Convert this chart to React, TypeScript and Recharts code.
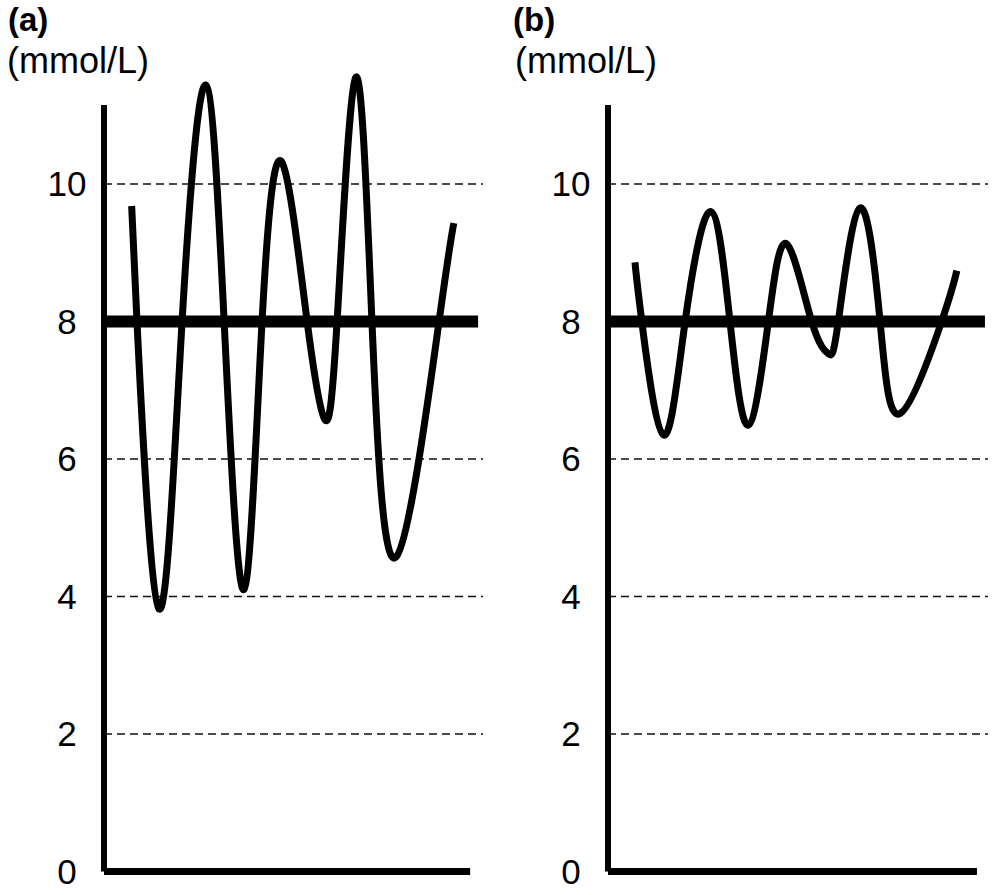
import React from "react";
import { LineChart, Line, XAxis, YAxis, ReferenceLine } from "recharts";

// ---- data ----
const yTicks = [0, 2, 4, 6, 8, 10];
const dashedTicks = [2, 4, 6, 10];
const targetGlucose = 8;
const panelTitles = ["(a)", "(b)"];
const unitLabel = "(mmol/L)";

const timeA = [7.3, 8.7, 14.5, 20.6, 26.8, 31.7, 36.9, 41.7, 46.9, 53.6, 58.3, 61.5, 66.4, 70.7, 77.0, 88.4, 92.3];
const glucoseA = [9.68, 8.0, 3.82, 8.0, 11.44, 8.0, 4.1, 8.0, 10.32, 8.0, 6.57, 8.0, 11.55, 8.0, 4.57, 8.0, 9.43];

const timeB = [7.1, 8.9, 14.6, 20.3, 27.0, 32.1, 36.9, 42.2, 47.0, 53.6, 58.0, 60.6, 66.3, 71.6, 76.8, 87.8, 91.8];
const glucoseB = [8.86, 8.0, 6.35, 8.0, 9.6, 8.0, 6.49, 8.0, 9.13, 8.0, 7.53, 8.0, 9.65, 8.0, 6.66, 8.0, 8.74];

// axis extents (in data units)
const Y_MAX = 12;
const Y_AXIS_TOP = 11.15;
const X_MAX = 100;

const FONT = "'Liberation Sans', Arial, sans-serif";

const Tick = (props: any) => {
  const { x, y, payload } = props;
  return (
    <text x={x} y={y} dy="0.355em" textAnchor="middle" fontFamily={FONT} fontSize={35} fill="#000">
      {payload.value}
    </text>
  );
};

type PanelProps = {
  times: number[];
  values: number[];
  left: number;
  width: number;
  marginLeft: number;
  marginRight: number;
  xAxisEnd: number;
  targetEnd: number;
};

const Panel = ({ times, values, left, width, marginLeft, marginRight, xAxisEnd, targetEnd }: PanelProps) => {
  const data = times.map((t, i) => ({ t, g: values[i] }));
  return (
    <div style={{ position: "absolute", left, top: 0 }}>
      <LineChart
        width={width}
        height={895}
        data={data}
        margin={{ top: 46.5, right: marginRight, bottom: 23.5, left: marginLeft }}
      >
        <XAxis dataKey="t" type="number" domain={[0, X_MAX]} hide />
        <YAxis
          type="number"
          domain={[0, Y_MAX]}
          ticks={yTicks}
          width={60}
          axisLine={false}
          tickLine={false}
          tickSize={0}
          tickMargin={37}
          tick={<Tick />}
          interval={0}
        />
        {dashedTicks.map((v) => (
          <ReferenceLine key={v} y={v} stroke="#111" strokeWidth={1.4} strokeDasharray="8 5" />
        ))}
        <ReferenceLine
          segment={[{ x: 0, y: targetGlucose }, { x: targetEnd, y: targetGlucose }]}
          stroke="#000"
          strokeWidth={12}
        />
        <ReferenceLine
          segment={[{ x: 0, y: 0 }, { x: 0, y: Y_AXIS_TOP }]}
          stroke="#000"
          strokeWidth={6}
        />
        <ReferenceLine
          segment={[{ x: 0, y: 0 }, { x: xAxisEnd, y: 0 }]}
          stroke="#000"
          strokeWidth={7}
        />
        <Line
          type="natural"
          dataKey="g"
          stroke="#000"
          strokeWidth={7}
          dot={false}
          isAnimationActive={false}
        />
      </LineChart>
    </div>
  );
};

export default function App() {
  return (
    <div style={{ position: "absolute", left: 0, top: 0, width: 1004, height: 895, background: "#fff", overflow: "hidden" }}>
      <Panel times={timeA} values={glucoseA} left={0} width={500} marginLeft={44} marginRight={17} xAxisEnd={96.6} targetEnd={98.7} />
      <Panel times={timeB} values={glucoseB} left={500} width={504} marginLeft={48} marginRight={16} xAxisEnd={97.1} targetEnd={99.2} />
      {panelTitles.map((title, i) => (
        <div
          key={title}
          style={{
            position: "absolute",
            left: i === 0 ? 8 : 513,
            top: 3,
            fontFamily: FONT,
            fontWeight: "bold",
            fontSize: 33,
            lineHeight: "33px",
            color: "#000",
            whiteSpace: "nowrap",
          }}
        >
          {title}
        </div>
      ))}
      {panelTitles.map((title, i) => (
        <div
          key={title + "u"}
          style={{
            position: "absolute",
            left: i === 0 ? 7 : 515,
            top: 43,
            fontFamily: FONT,
            fontSize: 36,
            lineHeight: "36px",
            color: "#000",
            whiteSpace: "nowrap",
          }}
        >
          {unitLabel}
        </div>
      ))}
    </div>
  );
}
